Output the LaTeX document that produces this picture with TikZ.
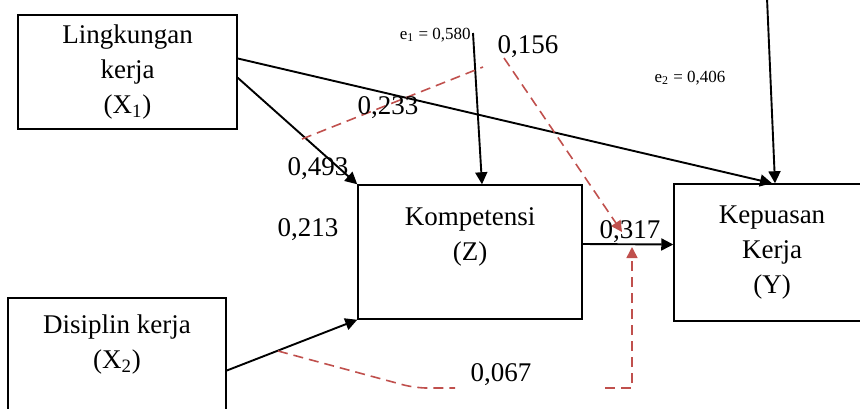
\documentclass[tikz,border=0pt]{standalone}
\usepackage{fontspec}
\setmainfont{Liberation Serif}
\usetikzlibrary{calc,arrows.meta,positioning}
\definecolor{medred}{RGB}{192,80,77}

\begin{document}
\begin{tikzpicture}[x=0.5pt,y=-0.5pt,
	varbox/.style={draw,line width=0.75pt,align=center,inner sep=0pt,font=\fontsize{13.5}{17.5}\selectfont},
	arr/.style={line width=0.95pt,-{Triangle[length=6pt,width=6pt]}},
	med/.style={medred,line width=0.8pt,dash pattern=on 5pt off 3pt},
	medarr/.style={med,-{Triangle[length=5.5pt,width=5.5pt]}},
	coef/.style={inner sep=0pt,font=\fontsize{13.5}{15}\selectfont},
	errlab/.style={inner sep=0pt,font=\fontsize{8.5}{10}\selectfont}]
	\useasboundingbox (0,0) rectangle (860,408);
	\clip (0,0) rectangle (860,408);
	% variabel
	\node[varbox,minimum width=109.5pt,minimum height=57pt] (x1) at (127.5,72) {Lingkungan\\kerja\\(X\textsubscript{1})};
	\node[varbox,minimum width=109pt,minimum height=61pt] (x2) at (117,359) {Disiplin kerja\\(X\textsubscript{2})\\\mbox{}};
	\node[varbox,minimum width=112pt,minimum height=67pt] (z) at (470,252) {Kompetensi\\(Z)\\\mbox{}};
	\node[varbox,minimum width=98pt,minimum height=68.5pt] (y) at (772,252.5) {Kepuasan\\Kerja\\(Y)};
	% jalur langsung
	\draw[arr] (x1.7) -- (y.north);
	\draw[arr] (x1.-3) -- (z.north west);
	\draw[arr] (x2.-6) -- (z.south west);
	\draw[arr] ($(z.east)+(0,-8)$) -- ($(y.west)+(0,-8)$);
	% error
	\coordinate (e1top) at (473,33);
	\coordinate (e2top) at (767,-2);
	\draw[arr] (e1top) -- ($(z.north)+(12,0)$);
	\draw[arr] (e2top) -- ($(y.north)+(3,0)$);
	\node[errlab,anchor=east] (e1) at (471,35) {e\textsubscript{1} = 0,580};
	\node[errlab] (e2) at (690,78) {e\textsubscript{2} = 0,406};
	% jalur tidak langsung
	\coordinate (m1a) at (302,139);
	\coordinate (m1b) at (483,67);
	\draw[med] (m1a) -- (m1b);
	\coordinate (m2a) at (504,58);
	\coordinate (m2b) at (622,232);
	\draw[medarr] (m2a) -- (m2b);
	\coordinate (m3a) at (278,351);
	\coordinate (m3b) at (455,388);
	\coordinate (m3c) at (605,388);
	\coordinate (m3d) at (632,247);
	\draw[med,rounded corners=6pt] (m3a) -- (415,388) -- (m3b);
	\draw[medarr] (m3c) -| (m3d);
	% koefisien
	\node[coef] (c156) at (528,47) {0,156};
	\node[coef] (c233) at (388,108) {0,233};
	\node[coef] (c493) at (318,169) {0,493};
	\node[coef] (c213) at (308,230) {0,213};
	\node[coef] (c317) at (630,232) {0,317};
	\node[coef] (c067) at (501,375) {0,067};
\end{tikzpicture}
\end{document}
